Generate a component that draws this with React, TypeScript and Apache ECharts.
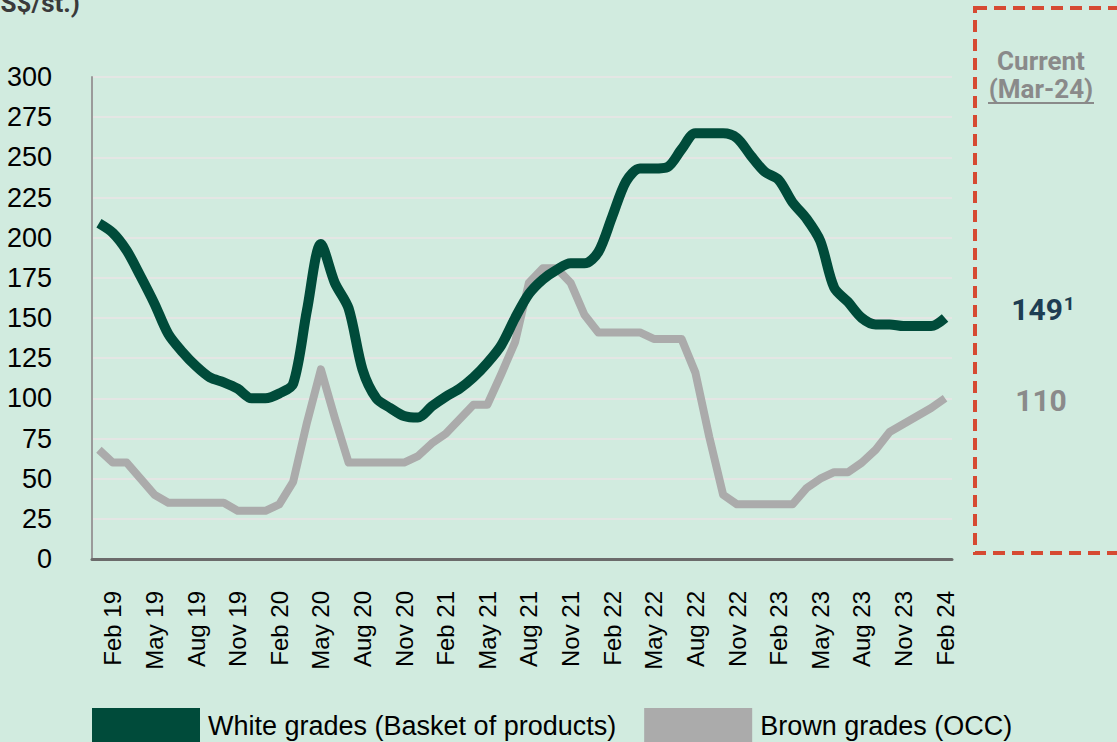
import React, { useEffect, useRef } from "react";
import * as echarts from "echarts";

const months: string[] = [
  "Jan 19","Feb 19","Mar 19","Apr 19","May 19","Jun 19","Jul 19","Aug 19","Sep 19","Oct 19","Nov 19","Dec 19",
  "Jan 20","Feb 20","Mar 20","Apr 20","May 20","Jun 20","Jul 20","Aug 20","Sep 20","Oct 20","Nov 20","Dec 20",
  "Jan 21","Feb 21","Mar 21","Apr 21","May 21","Jun 21","Jul 21","Aug 21","Sep 21","Oct 21","Nov 21","Dec 21",
  "Jan 22","Feb 22","Mar 22","Apr 22","May 22","Jun 22","Jul 22","Aug 22","Sep 22","Oct 22","Nov 22","Dec 22",
  "Jan 23","Feb 23","Mar 23","Apr 23","May 23","Jun 23","Jul 23","Aug 23","Sep 23","Oct 23","Nov 23","Dec 23",
  "Jan 24","Feb 24",
];

const whiteGrades: number[] = [
  209, 203, 192, 176, 159, 140, 129, 120, 113, 110, 106, 100,
  100, 103, 109, 155, 196, 172, 156, 118, 100, 94, 89, 88,
  95, 101, 106, 113, 122, 133, 150, 165, 174, 180, 184, 184,
  191, 213, 235, 243, 243, 244, 255, 265, 265, 265, 262, 251,
  241, 236, 222, 212, 198, 169, 160, 150, 146, 146, 145, 145,
  145, 150,
];

const brownGrades: number[] = [
  68, 60, 60, 50, 40, 35, 35, 35, 35, 35, 30, 30,
  30, 34, 48, 85, 118, 88, 60, 60, 60, 60, 60, 64,
  72, 78, 87, 96, 96, 115, 135, 172, 181, 181, 172, 152,
  141, 141, 141, 141, 137, 137, 137, 116, 76, 40, 34, 34,
  34, 34, 34, 44, 50, 54, 54, 60, 68, 79, 84, 89,
  94, 100,
];

const seriesNames: string[] = ["White grades (Basket of products)", "Brown grades (OCC)"];
const currentLabels: string[] = ["Current", "(Mar-24)"];
const currentValues: string[] = ["149", "110"];
const unitLabel = "(US$/st.)";

const BG = "#D1EBDF";
const GREEN = "#004B3A";
const GREY = "#ABABAB";
const NARROW = "'Liberation Sans Narrow', 'Arial Narrow', 'Liberation Sans', Arial, sans-serif";

export default function App() {
  const ref = useRef<HTMLDivElement>(null);

  useEffect(() => {
    document.body.style.margin = "0";
    document.body.style.background = BG;
    if (!ref.current) return;
    const chart = echarts.init(ref.current, undefined, { renderer: "svg" });
    chart.setOption({
      animation: false,
      backgroundColor: BG,
      grid: { left: 92, right: 165, top: 77, bottom: 183, containLabel: false },
      legend: {
        left: 92,
        top: 708,
        padding: 0,
        icon: "rect",
        itemWidth: 108,
        itemHeight: 36,
        itemGap: 28,
        textStyle: {
          fontFamily: NARROW,
          fontSize: 27,
          color: "#000",
          padding: [0, 0, 0, 3],
        },
        data: seriesNames,
      },
      xAxis: {
        type: "category",
        data: months,
        boundaryGap: true,
        axisLine: { show: true, lineStyle: { color: "#6B6B6B", width: 3 } },
        axisTick: { show: false },
        axisLabel: {
          interval: (index: number) => index % 3 === 1,
          rotate: 90,
          margin: 32,
          fontFamily: "'Liberation Sans', Arial, sans-serif",
          fontSize: 24,
          color: "#000",
        },
        splitLine: { show: false },
      },
      yAxis: {
        type: "value",
        min: 0,
        max: 300,
        interval: 25,
        axisLine: { show: true, lineStyle: { color: "#9A9A9A", width: 2 } },
        axisTick: { show: false },
        axisLabel: {
          margin: 40,
          fontFamily: NARROW,
          fontSize: 27,
          color: "#000",
        },
        splitLine: { show: true, lineStyle: { color: "#E4E6E4", width: 2 } },
      },
      series: [
        {
          name: seriesNames[0],
          type: "line",
          data: whiteGrades,
          smooth: 0.3,
          symbol: "none",
          z: 3,
          lineStyle: { color: GREEN, width: 10 },
          itemStyle: { color: GREEN },
        },
        {
          name: seriesNames[1],
          type: "line",
          data: brownGrades,
          smooth: false,
          symbol: "none",
          z: 2,
          lineStyle: { color: GREY, width: 8, join: "round" },
          itemStyle: { color: GREY },
        },
      ],
      graphic: [
        {
          type: "text",
          x: 80,
          y: -10,
          style: {
            text: unitLabel,
            align: "right",
            verticalAlign: "top",
            fontFamily: "Roboto, sans-serif",
            fontWeight: "bold",
            fontSize: 26,
            fill: "#3A3A3A",
          },
        },
        {
          type: "rect",
          shape: { x: 975, y: 8, width: 170, height: 545 },
          style: { fill: "none", stroke: "#D64A32", lineWidth: 4, lineDash: [12, 7] },
        },
        {
          type: "text",
          x: 1041,
          y: 61,
          style: {
            text: currentLabels[0],
            align: "center",
            verticalAlign: "middle",
            fontFamily: "Roboto, sans-serif",
            fontWeight: "bold",
            fontSize: 26,
            lineHeight: 26,
            fill: "#8A8A8A",
          },
        },
        {
          type: "text",
          x: 1041,
          y: 89,
          style: {
            text: currentLabels[1],
            align: "center",
            verticalAlign: "middle",
            fontFamily: "Roboto, sans-serif",
            fontWeight: "bold",
            fontSize: 26,
            lineHeight: 26,
            fill: "#8A8A8A",
          },
        },
        {
          type: "line",
          shape: { x1: 988, y1: 103, x2: 1094, y2: 103 },
          style: { stroke: "#8A8A8A", lineWidth: 2 },
        },
        {
          type: "text",
          x: 1043,
          y: 309,
          style: {
            text: "{v|" + currentValues[0] + "}{s|1}",
            align: "center",
            verticalAlign: "middle",
            rich: {
              v: { fontFamily: "Roboto, sans-serif", fontWeight: "bold", fontSize: 30, fill: "#1D3D52", color: "#1D3D52" },
              s: { fontFamily: "Roboto, sans-serif", fontWeight: "bold", fontSize: 19, fill: "#1D3D52", color: "#1D3D52", verticalAlign: "top", padding: [0, 0, 10, 1] },
            },
          },
        },
        {
          type: "text",
          x: 1041,
          y: 400,
          style: {
            text: currentValues[1],
            align: "center",
            verticalAlign: "middle",
            fontFamily: "Roboto, sans-serif",
            fontWeight: "bold",
            fontSize: 30,
            fill: "#8A8A8A",
          },
        },
      ],
    });
    return () => chart.dispose();
  }, []);

  return <div ref={ref} style={{ width: 1117, height: 742 }} />;
}
